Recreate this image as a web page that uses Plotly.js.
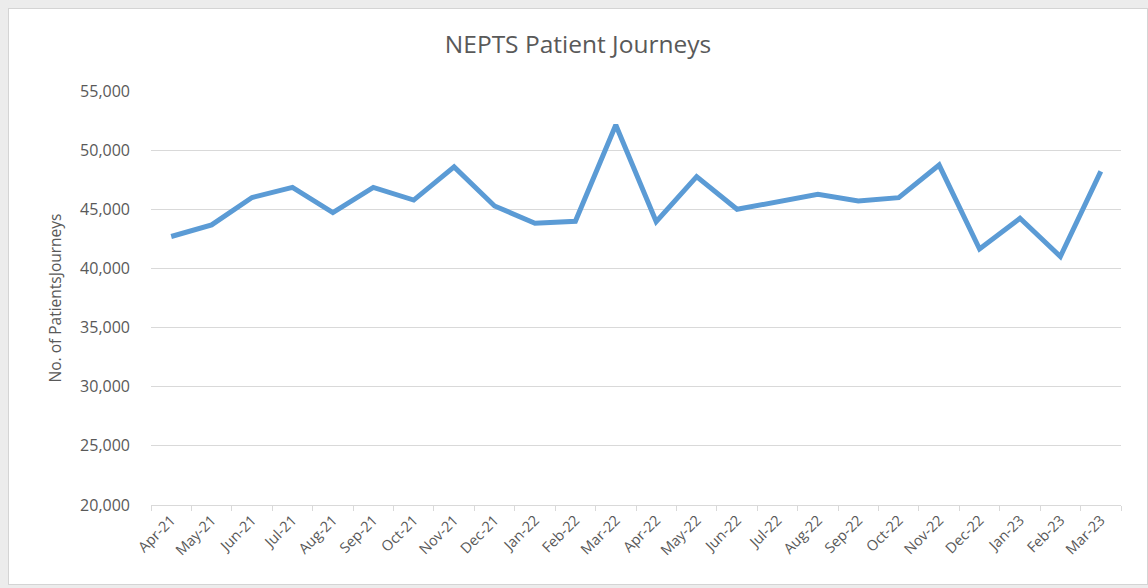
<!DOCTYPE html>
<html>
<head>
<meta charset="utf-8">
<script src="https://cdn.plot.ly/plotly-3.0.1.min.js"></script>
<style>
  html, body { margin: 0; padding: 0; background: #ececec; width: 1148px; height: 588px; overflow: hidden; }
  #frame { position: absolute; left: 8px; top: 8px; width: 1140px; height: 577px; background: #ffffff; border: 1px solid #d4d4d4; box-sizing: border-box; }
  #chart { position: absolute; left: 0; top: 0; width: 1138px; height: 575px; }
</style>
</head>
<body>
<div id="frame"><div id="chart"></div></div>
<script>
const months = ["Apr-21","May-21","Jun-21","Jul-21","Aug-21","Sep-21","Oct-21","Nov-21","Dec-21","Jan-22","Feb-22","Mar-22",
                "Apr-22","May-22","Jun-22","Jul-22","Aug-22","Sep-22","Oct-22","Nov-22","Dec-22","Jan-23","Feb-23","Mar-23"];
const journeys = [42700, 43680, 46000, 46850, 44720, 46850, 45780, 48580, 45280, 43820, 43990, 52130,
                  43960, 47760, 45000, 45590, 46260, 45700, 45980, 48740, 41640, 44240, 41010, 48210];
const chartTitle = "NEPTS Patient Journeys";
const yTitle = "No. of PatientsJourneys";

const fontFam = "'Open Sans', 'Liberation Sans', sans-serif";
const grey = "#595959";

Plotly.newPlot("chart", [{
  x: months,
  y: journeys,
  type: "scatter",
  mode: "lines",
  line: { color: "#5b9bd5", width: 5, shape: "linear" },
  hoverinfo: "x+y"
}], {
  width: 1138,
  height: 575,
  paper_bgcolor: "#ffffff",
  plot_bgcolor: "#ffffff",
  margin: { l: 142, r: 26, t: 82, b: 79 },
  showlegend: false,
  title: {
    text: chartTitle,
    font: { family: fontFam, size: 24.5, color: grey },
    x: 0.5, xref: "container", xanchor: "center",
    y: 1 - 35/575, yref: "container", yanchor: "middle"
  },
  xaxis: {
    type: "category",
    tickangle: -45,
    tickfont: { family: fontFam, size: 14.5, color: grey },
    showgrid: false,
    showline: true,
    linecolor: "#d9d9d9",
    linewidth: 1,
    ticks: "outside",
    tickson: "boundaries",
    ticklen: 5,
    tickcolor: "#d9d9d9",
    zeroline: false,
    automargin: false,
    range: [-0.5, 23.5]
  },
  yaxis: {
    range: [20000, 55000],
    dtick: 5000,
    tick0: 20000,
    tickformat: ",",
    tickfont: { family: fontFam, size: 16, color: grey },
    showgrid: true,
    gridcolor: "#d9d9d9",
    gridwidth: 1,
    zeroline: false,
    showline: false,
    ticks: "",
    ticklabelstandoff: 20,
    automargin: false,
    title: {
      text: yTitle,
      font: { family: fontFam, size: 15.5, color: grey },
      standoff: 14
    }
  }
}, { displayModeBar: false, responsive: false });
</script>
</body>
</html>
